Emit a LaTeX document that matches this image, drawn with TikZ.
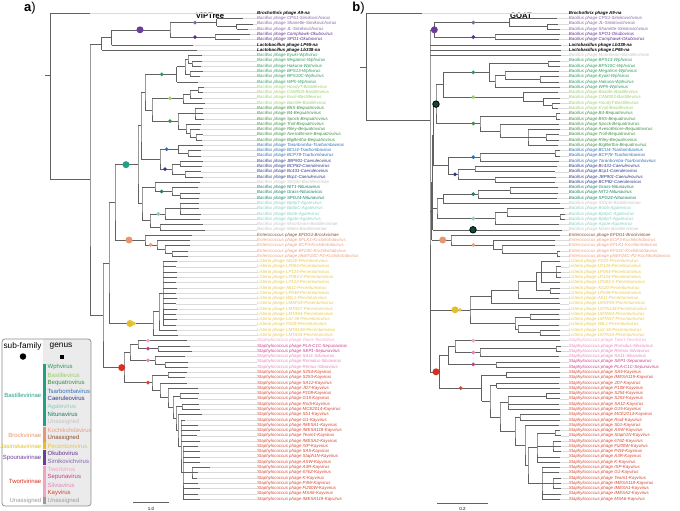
\documentclass[tikz,border=0pt]{standalone}
\usepackage{fontspec}
\setmainfont{Liberation Sans}
\usetikzlibrary{shapes.geometric}
% genus colours (leaf labels)
\definecolor{cna}{HTML}{000000}
\definecolor{cSimikovichvirus}{HTML}{8465A8}
\definecolor{cOkubovirus}{HTML}{5E2F8C}
\definecolor{cWphvirus}{HTML}{2E9A5B}
\definecolor{cBastillevirus}{HTML}{9ACD6A}
\definecolor{cBequatrovirus}{HTML}{3E8E41}
\definecolor{cTsarbombavirus}{HTML}{2F6FB5}
\definecolor{cCaeruleovirus}{HTML}{2E3A87}
\definecolor{cBastillevirinae}{HTML}{C4C4C4}
\definecolor{cNitunavirus}{HTML}{1B7F63}
\definecolor{cAgatevirus}{HTML}{86CFC0}
\definecolor{cBrockvirinae}{HTML}{8C4B2C}
\definecolor{cKochikohdavirus}{HTML}{EE9C7E}
\definecolor{cPecentumvirus}{HTML}{E6C64E}
\definecolor{cTwortvirus}{HTML}{F2A2C6}
\definecolor{cSepunavirus}{HTML}{C93B8B}
\definecolor{cSilviavirus}{HTML}{E584BB}
\definecolor{cKayvirus}{HTML}{D8432E}
% sub-family colours
\definecolor{sBas}{HTML}{1FA187}
\definecolor{sBro}{HTML}{E9966F}
\definecolor{sJas}{HTML}{E3C02A}
\definecolor{sSpo}{HTML}{6A3D9A}
\definecolor{sTwo}{HTML}{D7301F}
\definecolor{sTwb}{HTML}{F0A3C8}
\definecolor{sUna}{HTML}{9A9A9A}
\def\hBr{Brochothrix}\def\hBa{Bacillus}\def\hLa{Lactobacillus}
\def\hEn{Enterococcus}\def\hLi{Listeria}\def\hSt{Staphylococcus}
\def\fna{\bfseries}
\tikzset{
  br/.style={draw=black!62, line width=0.55pt},
  ext/.style={draw=black!14, line width=0.4pt},
  lab/.style={anchor=west, inner sep=0pt, font=\fontsize{4.4}{5}\selectfont\itshape},
  leg/.style={anchor=west, inner sep=0pt, font=\fontsize{6}{7}\selectfont},
  gdot/.style={diamond, fill=#1, inner sep=0pt, minimum size=4.2pt},
  sdot/.style={circle, fill=#1, inner sep=0pt, minimum size=7pt},
  bdot/.style={circle, fill=sBas!45!black, draw=black, line width=0.8pt, inner sep=0pt, minimum size=6.5pt}
}
% clade: [y] name x children
\newcommand\clade[4][]{%
  \foreach \ch [count=\k] in {#4}{\ifnum\k=1 \xdef\cfirst{\ch}\fi\xdef\clast{\ch}}%
  \coordinate (#2-x) at (#3,0);
  \if\relax\detokenize{#1}\relax
    \path (\cfirst) -- coordinate[pos=0.5] (#2-m) (\clast);
  \else
    \coordinate (#2-m) at (0,#1);
  \fi
  \coordinate (#2) at (#2-m -| #2-x);
  \draw[br] (#2 |- \cfirst) -- (#2) -- (#2 |- \clast);
  \foreach \ch in {#4}{\draw[br] (#2 |- \ch) -- (\ch);}%
}
\newcommand\dotat[4]{\coordinate (#4-x) at (#1,0); \node[#3] (#4) at (#2 -| #4-x) {};}
\begin{document}
\begin{tikzpicture}[x=1pt,y=-1pt]
\useasboundingbox (0,0) rectangle (680,511);

% ---------------- a) ViPTree ----------------
\node[font=\fontsize{13}{13}\selectfont] (ta) at (30,8.5) {\textbf{a})};
\node[font=\bfseries\fontsize{7.7}{8}\selectfont] (tva) at (210,15.5) {ViPTree};
\foreach \tx/\hs/\nm/\gn [count=\i] in {
90/Br/A9/na, 243/Ba/CPS1/Simikovichvirus, 253/Ba/Shanette/Simikovichvirus, 248/Ba/JL/Simikovichvirus,
250/Ba/Camphawk/Okubovirus, 240/Ba/SPO1/Okubovirus, 193/La/LP65/na, 197/La/Lb338/na,
202/Ba/Eyuki/Wphvirus, 202/Ba/Megatron/Wphvirus, 201/Ba/Hakuna/Wphvirus, 203/Ba/BPS13/Wphvirus,
200/Ba/BPS10C/Wphvirus, 198/Ba/WPh/Wphvirus, 204/Ba/HoodyT/Bastillevirus, 203/Ba/CAM003/Bastillevirus,
202/Ba/Evoli/Bastillevirus, 205/Ba/Bastille/Bastillevirus, 203/Ba/B5S/Bequatrovirus, 203/Ba/B4/Bequatrovirus,
204/Ba/Spock/Bequatrovirus, 201/Ba/Troll/Bequatrovirus, 200/Ba/Riley/Bequatrovirus, 203/Ba/AvesoBmore/Bequatrovirus,
202/Ba/BigBertha/Bequatrovirus, 203/Ba/Taranbomba/Tsarbombavirus, 201/Ba/BCU4/Tsarbombavirus, 201/Ba/BCP78/Tsarbombavirus,
203/Ba/JBP901/Caeruleovirus, 202/Ba/BCP82/Caeruleovirus, 201/Ba/Bc431/Caeruleovirus, 203/Ba/Bcp1/Caeruleovirus,
200/Ba/SIOphi/Bastillevirinae, 198/Ba/NIT1/Nitunavirus, 200/Ba/Grass/Nitunavirus, 199/Ba/SPG24/Nitunavirus,
199/Ba/Bp8pT/Agatevirus, 199/Ba/Bp8pC/Agatevirus, 201/Ba/Bobb/Agatevirus, 200/Ba/Agate/Agatevirus,
203/Ba/Moonbeam/Bastillevirinae, 205/Ba/Mater/Bastillevirinae, 192/En/EFDG1/Brockvirinae, 190/En/EFLK1/Kochikohdavirus,
190/En/ECP3/Kochikohdavirus, 188/En/EF24C/Kochikohdavirus, 188/En/phiEF24C-P2/Kochikohdavirus,
177/Li/AG20/Pecentumvirus, 176/Li/LP064/Pecentumvirus, 177/Li/LP125/Pecentumvirus, 177/Li/LP083-2/Pecentumvirus,
176/Li/LP124/Pecentumvirus, 177/Li/A511/Pecentumvirus, 176/Li/LP048/Pecentumvirus, 177/Li/WIL1/Pecentumvirus,
176/Li/LMSP25/Pecentumvirus, 177/Li/LMTA57/Pecentumvirus, 176/Li/LMTA94/Pecentumvirus, 177/Li/List-36/Pecentumvirus,
176/Li/P100/Pecentumvirus, 177/Li/LMTA148/Pecentumvirus, 178/Li/LMTA34/Pecentumvirus,
187/St/Twort/Twortvirus, 190/St/PLA-C1C/Sepunavirus, 192/St/SEP1/Sepunavirus, 185/St/SA11/Silviavirus,
188/St/Romulus/Silviavirus, 188/St/Remus/Silviavirus, 187/St/S254/Kayvirus, 185/St/S253/Kayvirus,
187/St/SA12/Kayvirus, 198/St/JD7/Kayvirus, 199/St/P108/Kayvirus, 198/St/G15/Kayvirus, 199/St/Rodi/Kayvirus,
200/St/MCE2014/Kayvirus, 202/St/Sb1/Kayvirus, 185/St/G1/Kayvirus, 198/St/IMESA1/Kayvirus, 200/St/IMESA118/Kayvirus,
197/St/Team1/Kayvirus, 200/St/IMESA2/Kayvirus, 198/St/ISP/Kayvirus, 200/St/SA5/Kayvirus, 200/St/Staph1N/Kayvirus,
200/St/ASW/Kayvirus, 210/St/A3R/Kayvirus, 198/St/676Z/Kayvirus, 197/St/K/Kayvirus, 198/St/P4W/Kayvirus,
200/St/Fi200W/Kayvirus, 198/St/MSA6/Kayvirus, 200/St/IMESA119/Kayvirus}{
  \coordinate (a\i) at (\tx,{13.3+5.28*(\i-1)});
  \node[lab, text=c\gn] (la\i) at (257,{13.3+5.28*(\i-1)}) {\csname f\gn\endcsname\csname h\hs\endcsname\ phage \nm-\gn};
  \draw[ext] (a\i) -- (la\i.west);
}
\clade{aSim1}{236.7}{a3,a4}
\clade{aSim}{216.7}{a2,aSim1}
\clade{aOku}{215}{a5,a6}
\clade{aSpo}{170}{aSim,aOku}
\clade{aY1}{111.7}{aSpo,a7}
\clade{aY}{101.7}{aY1,a8}
\clade{aA1b}{192}{a10,a11}
\clade{aA1}{188}{a9,aA1b}
\clade{aA2}{190}{a12,a13}
\clade{aA}{185}{aA1,aA2}
\clade{aWph}{176.7}{aA,a14}
\clade{aBa2}{198}{a15,a16}
\clade{aBa1}{190}{aBa2,a17}
\clade{aBas}{183}{aBa1,a18}
\clade{aBq1}{195}{a19,a20,a21}
\clade{aBq4}{196}{a24,a25}
\clade{aBq3}{190}{a23,aBq4}
\clade{aBq2}{186}{a22,aBq3}
\clade{aBq}{178}{aBq1,aBq2}
\clade{aUB}{152}{aBas,aBq}
\clade{aU}{145}{aWph,aUB}
\clade{aTs1}{188}{a27,a28}
\clade{aTs}{178.3}{a26,aTs1}
\clade{aCa1}{180}{a29,a30}
\clade{aCa2}{185}{a31,a32}
\clade{aCa}{172}{aCa1,aCa2}
\clade{aTC}{160}{aTs,aCa}
\clade{aB1}{141}{aU,aTC}
\clade{aNi1}{180}{a35,a36}
\clade{aNi}{172}{a34,aNi1}
\clade{aSN}{155}{a33,aNi}
\clade{aAg1}{180}{a37,a38,a39}
\clade{aAg}{165}{aAg1,a40}
\clade{aGr}{160}{a41,a42}
\clade{aAG}{150}{aAg,aGr}
\clade{aB2}{142}{aSN,aAG}
\clade{aB}{138}{aB1,aB2}
\clade{aKo2}{172}{a46,a47}
\clade{aKo1}{165}{a45,aKo2}
\clade{aKo}{157}{a44,aKo1}
\clade{aBr}{145}{a43,aKo}
\clade{aBB}{115}{aB,aBr}
\clade{aP2}{163}{a48,a49,a50,a51,a52,a53,a54,a55,a56,a57,a58,a59,a60}
\clade{aP1}{159}{aP2,a61}
\clade{aPe}{153}{aP1,a62}
\clade{aN109}{109}{aBB,aPe}
\clade{aSe}{158}{a64,a65}
\clade{aTS}{138}{a63,aSe}
\clade{aSl1}{165}{a67,a68}
\clade{aSl}{155}{a66,aSl1}
\clade{aTSS}{130}{aTS,aSl}
\clade{aK1}{168}{a69,a70}
\clade{aK9}{192}{a87,a88,a89}
\clade{aK8}{183}{a83,a84,a85,a86,aK9,a90,a91,a92,a93}
\clade{aK7}{181}{a78,a79,a80,a81,a82,aK8}
\clade{aK6}{178}{a77,aK7}
\clade{aK5a}{182}{a75,a76}
\clade{aK5}{176}{aK5a,aK6}
\clade{aK4a}{180}{a73,a74}
\clade{aK4}{173}{aK4a,aK5}
\clade{aK3}{168}{a72,aK4}
\clade{aK2}{160}{a71,aK3}
\clade{aKay}{152}{aK1,aK2}
\clade{aT}{124}{aTSS,aKay}
\clade{aN103}{103}{aN109,aT}
\clade{aN90}{90}{aY,aN103}
\clade[75]{aRoot}{50.7}{a1,aN90}
\coordinate (a0-x) at (45,0);
\draw[br] (aRoot) -- (aRoot -| a0-x);
% dots of tree a
\dotat{140}{aSpo}{sdot=sSpo}{daSpo}
\dotat{195}{aSim}{gdot=cSimikovichvirus}{daSim}
\dotat{195}{aOku}{gdot=cOkubovirus}{daOku}
\dotat{161.7}{aWph}{gdot=cWphvirus}{daWph}
\dotat{170}{aBas}{gdot=cBastillevirus}{daBas}
\dotat{170}{aBq}{gdot=cBequatrovirus}{daBq}
\dotat{166.7}{aTs}{gdot=cTsarbombavirus}{daTs}
\dotat{165}{aCa}{gdot=cCaeruleovirus}{daCa}
\dotat{126}{aB}{sdot=sBas}{daB}
\dotat{161.7}{aNi}{gdot=cNitunavirus}{daNi}
\dotat{158.3}{aAg}{gdot=cAgatevirus}{daAg}
\dotat{129}{aBr}{sdot=sBro}{daBr}
\dotat{150.7}{aKo}{gdot=cKochikohdavirus}{daKo}
\dotat{130}{aPe}{sdot=sJas}{daJa}
\dotat{134}{aPe}{gdot=cPecentumvirus}{daPe}
\dotat{121.7}{aT}{sdot=sTwo}{daT}
\dotat{148}{a63}{gdot=cTwortvirus}{daTw}
\dotat{148}{aSe}{gdot=cSepunavirus}{daSe}
\dotat{148}{aSl}{gdot=cSilviavirus}{daSl}
\dotat{148}{aKay}{gdot=cKayvirus}{daKay}
% scale bar a
\coordinate (sa1) at (133,502.7);
\coordinate (sa2) at (169,502.7);
\draw[br] (sa1) -- (sa2);
\node[font=\fontsize{4.5}{5}\selectfont] (sal) at (151,508.5) {1.0};

% ---------------- b) GOAT ----------------
\node[font=\fontsize{13}{13}\selectfont] (tb) at (358.5,8.5) {\textbf{b})};
\node[font=\bfseries\fontsize{7.7}{8}\selectfont] (tgo) at (521,15.5) {GOAT};
\foreach \tx/\hs/\nm/\gn [count=\i] in {
421.7/Br/A9/na, 556.7/Ba/CPS1/Simikovichvirus, 558/Ba/JL/Simikovichvirus, 560/Ba/Shanette/Simikovichvirus,
560/Ba/SPO1/Okubovirus, 559/Ba/Camphawk/Okubovirus, 561/La/Lb338/na, 561/La/LP65/na,
561/Ba/Moonbeam/Bastillevirinae, 560/Ba/BPS13/Wphvirus, 560/Ba/BPS10C/Wphvirus, 559/Ba/Megatron/Wphvirus,
559/Ba/Eyuki/Wphvirus, 559/Ba/Hakuna/Wphvirus, 560/Ba/WPh/Wphvirus, 558/Ba/Bastille/Bastillevirus,
560/Ba/CAM003/Bastillevirus, 560/Ba/HoodyT/Bastillevirus, 558/Ba/Evoli/Bastillevirus, 560/Ba/B4/Bequatrovirus,
560/Ba/B5S/Bequatrovirus, 559/Ba/Spock/Bequatrovirus, 560/Ba/AvesoBmore/Bequatrovirus, 559/Ba/Troll/Bequatrovirus,
559/Ba/Riley/Bequatrovirus, 558/Ba/BigBertha/Bequatrovirus, 560/Ba/BCU4/Tsarbombavirus, 560/Ba/BCP78/Tsarbombavirus,
559/Ba/Taranbomba/Tsarbombavirus, 557/Ba/Bc431/Caeruleovirus, 555/Ba/Bcp1/Caeruleovirus, 556/Ba/JBP901/Caeruleovirus,
555/Ba/BCP82/Caeruleovirus, 558/Ba/Grass/Nitunavirus, 558/Ba/NIT1/Nitunavirus, 557/Ba/SPG24/Nitunavirus,
560/Ba/SIOphi/Bastillevirinae, 564/Ba/Bobb/Agatevirus, 565/Ba/Bp8pC/Agatevirus, 565/Ba/Bp8pT/Agatevirus,
559/Ba/Agate/Agatevirus, 562/Ba/Mater/Bastillevirinae, 560/En/EFDG1/Brockvirinae, 555/En/ECP3/Kochikohdavirus,
555/En/EFLK1/Kochikohdavirus, 560/En/EF24C/Kochikohdavirus, 560/En/phiEF24C-P2/Kochikohdavirus,
560/Li/P100/Pecentumvirus, 561/Li/LP125/Pecentumvirus, 561/Li/LP064/Pecentumvirus, 561/Li/LP124/Pecentumvirus,
560/Li/LP083-2/Pecentumvirus, 560/Li/AG20/Pecentumvirus, 560/Li/LP048/Pecentumvirus, 559/Li/A511/Pecentumvirus,
560/Li/LMSP25/Pecentumvirus, 560/Li/LMTA148/Pecentumvirus, 559/Li/LMTA94/Pecentumvirus, 560/Li/LMTA57/Pecentumvirus,
559/Li/WIL1/Pecentumvirus, 560/Li/List-36/Pecentumvirus, 560/Li/LMTA34/Pecentumvirus,
560/St/Twort/Twortvirus, 561/St/Romulus/Silviavirus, 561/St/Remus/Silviavirus, 559/St/SA11/Silviavirus,
560/St/SEP1/Sepunavirus, 560/St/PLA-C1C/Sepunavirus, 560/St/SA5/Kayvirus, 560/St/IMESA119/Kayvirus,
559/St/JD7/Kayvirus, 560/St/P108/Kayvirus, 560/St/S254/Kayvirus, 560/St/S253/Kayvirus, 559/St/SA12/Kayvirus,
560/St/G15/Kayvirus, 560/St/MCE2014/Kayvirus, 560/St/Rodi/Kayvirus, 559/St/Sb1/Kayvirus, 560/St/ASW/Kayvirus,
561/St/Staph1N/Kayvirus, 561/St/676Z/Kayvirus, 561/St/Fi200W/Kayvirus, 561/St/P4W/Kayvirus, 560/St/A3R/Kayvirus,
560/St/K/Kayvirus, 560/St/ISP/Kayvirus, 559/St/G1/Kayvirus, 561/St/Team1/Kayvirus, 561/St/IMESA118/Kayvirus,
561/St/IMESA1/Kayvirus, 561/St/IMESA2/Kayvirus, 560/St/MSA6/Kayvirus}{
  \coordinate (b\i) at (\tx,{13.3+5.28*(\i-1)});
  \node[lab, text=c\gn] (lb\i) at (568.7,{13.3+5.28*(\i-1)}) {\csname f\gn\endcsname\csname h\hs\endcsname\ phage \nm-\gn};
  \draw[ext] (b\i) -- (lb\i.west);
}
\clade{bSim1}{547.3}{b3,b4}
\clade{bSim}{509.3}{b2,bSim1}
\clade{bOku}{495}{b5,b6}
\clade{bSpo}{434.3}{bSim,bOku}
\clade{bW1}{548}{b10,b11}
\clade{bW3}{540}{b13,b14}
\clade{bW2}{505}{b12,bW3}
\clade{bW5}{495}{bW2,b15}
\clade{bWph}{489.3}{bW1,bW5}
\clade{bBa2}{552}{b18,b19}
\clade{bBa1}{543.3}{b17,bBa2}
\clade{bBas}{523.3}{b16,bBa1}
\clade{bWB}{443.3}{bWph,bBas}
\clade{bBq1}{556}{b20,b21}
\clade{bBq4}{546}{b24,b25}
\clade{bBq3}{528}{b23,bBq4,b26}
\clade{bBq2}{500}{b22,bBq3}
\clade{bBq}{480}{bBq1,bBq2}
\clade{bA}{436}{bWB,bBq}
\clade{bTs1}{555}{b27,b28}
\clade{bTs}{480}{bTs1,b29}
\clade{bCa1}{475}{b30,b31}
\clade{bCa2}{495}{b32,b33}
\clade{bCa}{458}{bCa1,bCa2}
\clade{bTC}{448.3}{bTs,bCa}
\clade{bB}{433.5}{bA,bTC}
\clade{bNi1}{510}{b34,b35}
\clade{bNi}{478}{bNi1,b36}
\clade{bNS}{443.3}{bNi,b37}
\clade{bAg2}{560}{b39,b40}
\clade{bAg1}{507}{b38,bAg2}
\clade{bAg}{495}{bAg1,b41}
\clade{bC}{437}{bNS,bAg}
\clade{bD}{432.5}{bB,bC,b42}
\clade{bKo2}{557}{b46,b47}
\clade{bKo1}{502}{b45,bKo2}
\clade{bKo}{493.3}{b44,bKo1}
\clade{bBr}{451}{b43,bKo}
\clade{bF}{431.5}{bD,bBr}
\clade{bPa1b}{556}{b49,b50,b51}
\clade{bPa1}{541.7}{b48,bPa1b,b52}
\clade{bPa2b}{550}{b53,b54}
\clade{bPa2}{536.7}{bPa1,bPa2b}
\clade{bPa3}{518}{bPa2,b55}
\clade{bPa4}{491.7}{bPa3,b56}
\clade{bPb1}{530}{b58,b59}
\clade{bPb3}{540}{b61,b62}
\clade{bPb2}{518}{b60,bPb3}
\clade{bPb}{515}{bPb1,bPb2}
\clade{bPe}{470}{bPa4,b57,bPb}
\clade{bSl1}{556}{b64,b65}
\clade{bSl}{480}{bSl1,b66}
\clade{bTS}{455}{b63,bSl}
\clade{bSe}{496}{b67,b68}
\clade{bTSS}{448.3}{bTS,bSe}
\clade{bKa}{506.7}{b69,b70}
\clade{bKc}{496.7}{b71,b72}
\clade{bKf}{546.7}{b73,b74}
\clade{bKe}{508}{bKf,b75,b76}
\clade{bKh}{520}{b77,b78}
\clade{bKk1}{555}{b80,b81}
\clade{bKk2}{553}{b82,b83,b84}
\clade{bKk}{537}{bKk1,bKk2,b85,b86}
\clade{bKl1}{553}{b89,b90,b91}
\clade{bKl}{542}{b87,b88,bKl1,b92,b93}
\clade{bKj}{528}{bKk,bKl}
\clade{bKi}{525}{b79,bKj}
\clade{bKg}{515}{bKh,bKi}
\clade{bKd}{500}{bKe,bKg}
\clade{bKb}{490}{bKc,bKd}
\clade{bKay}{481.7}{bKa,bKb}
\clade{bT}{439.3}{bTSS,bKay}
\clade[120.7]{bR1}{430}{bSpo,b7,b8,b9,bF,bPe,bT}
\clade{bRoot}{366.7}{b1,bR1}
\coordinate (b0-x) at (360,0);
\draw[br] (bRoot) -- (bRoot -| b0-x);
% dots of tree b
\dotat{434.3}{bSpo}{sdot=sSpo}{dbSpo}
\dotat{473.3}{bSim}{gdot=cSimikovichvirus}{dbSim}
\dotat{473.3}{bOku}{gdot=cOkubovirus}{dbOku}
\dotat{473.3}{bWph}{gdot=cWphvirus}{dbWph}
\dotat{473.3}{bBas}{gdot=cBastillevirus}{dbBas}
\dotat{473.3}{bBq}{gdot=cBequatrovirus}{dbBq}
\dotat{436}{bA}{bdot}{dbA}
\dotat{473.3}{bTs}{gdot=cTsarbombavirus}{dbTs}
\dotat{455}{bCa}{gdot=cCaeruleovirus}{dbCa}
\dotat{473.3}{bNi}{gdot=cNitunavirus}{dbNi}
\dotat{473.3}{bAg}{gdot=cAgatevirus}{dbAg}
\dotat{473}{b42}{bdot}{dbMa}
\dotat{442.7}{bBr}{sdot=sBro}{dbBr}
\dotat{473.3}{bKo}{gdot=cKochikohdavirus}{dbKo}
\dotat{455}{bPe}{sdot=sJas}{dbJa}
\dotat{460}{bPe}{gdot=cPecentumvirus}{dbPe}
\dotat{436}{bT}{sdot=sTwo}{dbT}
\dotat{473.3}{b63}{gdot=cTwortvirus}{dbTw}
\dotat{473.3}{bSl}{gdot=cSilviavirus}{dbSl}
\dotat{473.3}{bSe}{gdot=cSepunavirus}{dbSe}
\dotat{460.7}{bKay}{gdot=cKayvirus}{dbKay}
% scale bar b
\coordinate (sb1) at (437,503);
\coordinate (sb2) at (488,503);
\draw[br] (sb1) -- (sb2);
\node[font=\fontsize{4.5}{5}\selectfont] (sbl) at (462.5,508.5) {0.2};

% ---------------- legend ----------------
\begin{scope}
  \clip[rounded corners=3pt] (2,339) rectangle (91,506);
  \fill[white] (2,339) rectangle (43,506);
  \fill[black!8] (43,339) rectangle (91,506);
\end{scope}
\draw[rounded corners=3pt, draw=black!45, line width=0.7pt] (2,339) rectangle (91,506);
\node[font=\fontsize{8.3}{9}\selectfont] (hsub) at (22.5,346) {sub-family};
\node[font=\fontsize{8.3}{9}\selectfont] (hgen) at (61,346) {genus};
\node[circle, fill=black, inner sep=0pt, minimum size=6.5pt] (hdot) at (23,356.5) {};
\node[rectangle, fill=black, inner sep=0pt, minimum size=4pt] (hsq) at (62,356.5) {};
\foreach \p/\q/\c in {1/8/sBas, 9/10/sBro, 11/11/sJas, 12/13/sSpo, 14/17/sTwb, 18/18/sUna}
  \fill[\c] (43,{367.3+7.86*(\p-1)-3.5}) rectangle (46,{367.3+7.86*(\q-1)+3.5});
\foreach \g/\c [count=\k] in {Wphvirus/cWphvirus, Bastillevirus/cBastillevirus, Bequatrovirus/cBequatrovirus,
  Tsarbombavirus/cTsarbombavirus, Caeruleovirus/cCaeruleovirus, Agatevirus/cAgatevirus, Nitunavirus/cNitunavirus,
  Unassigned/cBastillevirinae, Kochikohdavirus/cKochikohdavirus, Unassigned/cBrockvirinae, Pecentumvirus/cPecentumvirus,
  Okubovirus/cOkubovirus, Simikovichvirus/cSimikovichvirus, Twortvirus/cTwortvirus, Sepunavirus/cSepunavirus,
  Silviavirus/cSilviavirus, Kayvirus/cKayvirus, Unassigned/sUna}
  \node[leg, text=\c] (lg\k) at (47.5,{367.3+7.86*(\k-1)}) {\g};
\foreach \s/\c/\y [count=\k] in {Bastillevirinae/sBas/395.7, Brockvirinae/sBro/435, Jasinskavirinae/sJas/446.7,
  Spounavirinae/sSpo/457.7, Twortvirinae/sTwo/481, Unassigned/sUna/501}
  \node[leg, anchor=east, text=\c] (ls\k) at (41.5,\y) {\s};
\end{tikzpicture}
\end{document}
